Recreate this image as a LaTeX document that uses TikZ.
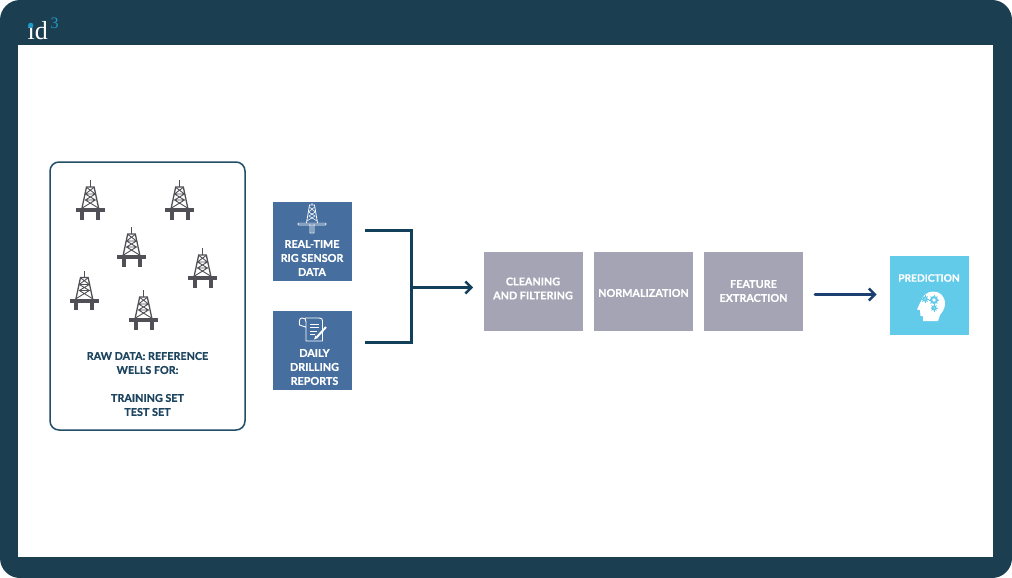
\documentclass[tikz,border=0pt]{standalone}
\usepackage{fontspec}
\setmainfont{Lato}[BoldFont={Lato Bold},BoldFeatures={FakeBold=0.6}]
\newfontfamily\logofont{Liberation Serif}
\usetikzlibrary{arrows.meta,calc}
\definecolor{frame}{HTML}{1B3F50}
\definecolor{rawline}{HTML}{1F4E66}
\definecolor{navytext}{HTML}{1D4560}
\definecolor{bluebox}{HTML}{466FA0}
\definecolor{greybox}{HTML}{A5A4B4}
\definecolor{cyanbox}{HTML}{62CBEA}
\definecolor{linkdark}{HTML}{123F5A}
\definecolor{linkblue}{HTML}{1B3F70}
\definecolor{rig}{HTML}{505056}
\definecolor{logocyan}{HTML}{1E9BC9}
\tikzset{
  x=1pt,y=-1pt,
  every node/.style={font=\bfseries\fontsize{10.8}{14}\selectfont,align=center,inner sep=0pt},
  stagebox/.style={minimum width=79pt,minimum height=79pt,anchor=north west,text=white},
  sourcebox/.style={stagebox,fill=bluebox},
  cleanbox/.style={stagebox,fill=greybox,minimum width=99pt},
  predictbox/.style={stagebox,fill=cyanbox},
  caption/.style={text=white,anchor=center},
  wire/.style={draw=linkdark,line width=3pt},
  flow/.style={line width=2.7pt,-{Straight Barb[length=6pt,width=12pt,line width=2.4pt]}},
  derrick/.pic={
    \fill[rig] (-14.5,-2) rectangle (14.5,2);
    \fill[rig] (-10,0) rectangle (-6,9.5);
    \fill[rig] (6,0) rectangle (10,9.5);
    \draw[rig,line width=1.3pt] (-8.5,-1) -- (-3.8,-23) -- (3.8,-23) -- (8.5,-1);
    \draw[rig,line width=.9pt] (0,-23) -- (0,-30);
    \draw[rig,line width=.9pt] (-8,-2) -- (5,-10) -- (-5,-16) -- (3.6,-22.5)
      (8,-2) -- (-5,-10) -- (5,-16) -- (-3.6,-22.5)
      (-5.5,-10) -- (5.5,-10) (-4.6,-16) -- (4.6,-16);
  },
  smallrig/.pic={
    \draw[white,line width=.7pt,rounded corners=.5pt] (-14,-.9) rectangle (14,.9);
    \draw[white,line width=.8pt] (-5.5,-1) -- (-2.5,-19) -- (2.5,-19) -- (5.5,-1)
      (-2,0) -- (-2,9) -- (2,9) -- (2,0);
    \draw[white,line width=.55pt] (-5,-3) -- (3,-8) -- (-3.4,-12) -- (2.6,-17)
      (5,-3) -- (-3,-8) -- (3.4,-12) -- (-2.6,-17) (0,-19) -- (0,-21) (0,1) -- (0,8);
  }
}
\begin{document}
\begin{tikzpicture}
\useasboundingbox (0,0) rectangle (1012,578);
\fill[white] (0,0) rectangle (1012,578);
\fill[frame,rounded corners=20pt] (0,0) rectangle (1012,578);
\fill[white] (18,45) rectangle (993,557);

% logo
\node[anchor=base west,text=white,font=\logofont\fontsize{26}{26}\selectfont] (logoid) at (27.5,39.5) {ıd};
\node[anchor=base west,text=logocyan,font=\logofont\fontsize{16}{16}\selectfont] (logothree) at (50.5,28.5) {3};
\fill[logocyan] (30.7,25.4) circle (2.7);

% raw data panel
\draw[rawline,line width=1.5pt,rounded corners=9pt,fill=white] (50,162) rectangle (245,430);
\foreach \px/\py in {90.3/210,179.5/210,131.5/257,202.5/278,84.3/300.5,143.5/320}
  \pic at (\px,\py) {derrick};
\node[text=navytext,anchor=center] (rawtext) at (147.5,384)
  {RAW DATA: REFERENCE\\WELLS FOR:\\[14pt]TRAINING SET\\TEST SET};

% sources
\node[sourcebox] (rt) at (273,202) {};
\node[caption] (rtlabel) at (312,258) {REAL-TIME\\RIG SENSOR\\DATA};
\pic at (312,224) {smallrig};
\node[sourcebox] (ddr) at (273,311) {};
\node[caption] (ddrlabel) at (314.5,367) {DAILY\\DRILLING\\REPORTS};
% report icon
\draw[white,line width=.9pt,line join=round,fill=bluebox]
  (305,318) -- (319,318) .. controls (322,318) and (322.5,319) .. (322.5,321)
  -- (322.5,341) -- (306,341) -- (306,322) .. controls (306,319) and (305,318) .. (302,318)
  .. controls (299.5,318) and (299,321) .. (299.5,325) -- (305.5,327);
\draw[white,line width=.9pt] (310,324) -- (319,324) (310,327.5) -- (319,327.5) (310,331) -- (317,331) (310,334.5) -- (315,334.5);
\draw[white,line width=2pt] (317,337) -- (326,327);
\fill[white] (314,339.5) -- (315.5,335.5) -- (318,338) -- cycle;

% stages
\node[cleanbox] (clean) at (484,252) {};
\node[caption] (cleanlabel) at (533,288.5) {CLEANING\\AND FILTERING};
\node[cleanbox] (norm) at (594,252) {};
\node[caption] (normlabel) at (643.5,293) {NORMALIZATION};
\node[cleanbox] (feat) at (704,252) {};
\node[caption] (featlabel) at (753.5,291) {FEATURE\\EXTRACTION};
\node[predictbox] (pred) at (890,256) {};
\node[caption,font=\bfseries\fontsize{10.2}{14}\selectfont] (predlabel) at (929,278) {PREDICTION};

% head icon
\fill[white] (923,321) -- (923,316.5) .. controls (921,314) and (920,311) .. (920,306)
  .. controls (921,296) and (927,291.5) .. (933,291.5)
  .. controls (940,291.5) and (945,296) .. (945,304)
  .. controls (945,310) and (941,313) .. (940,315) -- (938,321) -- cycle;
\fill[white] (920.5,302) -- (917,309.5) -- (920,310) -- (920.5,316) -- (927,316) -- (925,306) -- cycle;
\foreach \gx/\gy/\gr in {934/300/3.4,925/299/2.1,934/308/2}{
  \fill[cyanbox] (\gx,\gy) circle (\gr+.6);
  \fill[white] (\gx,\gy) circle (\gr-1.5);
  \foreach \a in {0,45,...,315}
    \draw[cyanbox,line width=1pt] ($(\gx,\gy)+(\a:\gr)$) -- ($(\gx,\gy)+(\a:\gr+1.5)$);
}

% connectors
\coordinate (rtout) at (365,230.5);
\coordinate (ddrout) at (365,342);
\coordinate (busrt) at (411.5,230.5);
\coordinate (busddr) at (411.5,342);
\coordinate (busmid) at (411.5,287.5);
\coordinate (cleanin) at (473,287.5);
\coordinate (featout) at (815,294.5);
\coordinate (predin) at (876.5,294.5);
\draw[wire,line join=miter] (rtout) -- (busrt) -- (busddr) -- (ddrout);
\draw[flow,draw=linkdark] (busmid) -- (cleanin);
\draw[flow,draw=linkblue,line cap=round] (featout) -- (predin);
\end{tikzpicture}
\end{document}
